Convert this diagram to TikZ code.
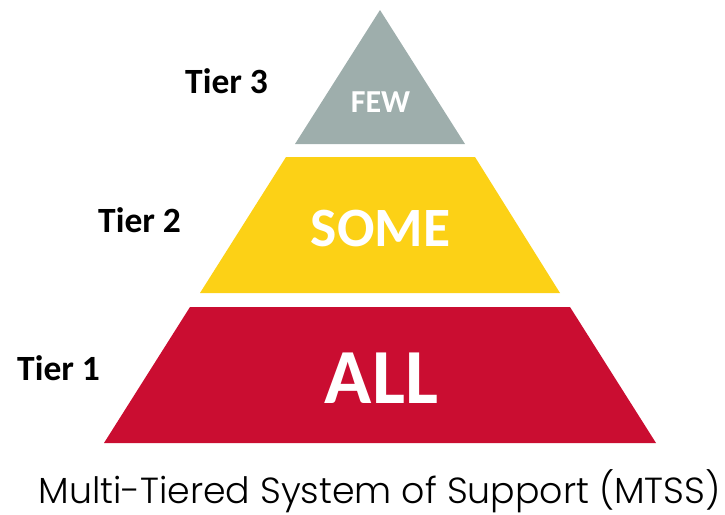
\documentclass[tikz,border=0pt]{standalone}
\usepackage{fontspec}
\usepackage{tikz}
\setmainfont{Carlito}
\newfontfamily\capfont{Poppins Light}
\definecolor{t3}{HTML}{9EAEAC}
\definecolor{t2}{HTML}{FCD116}
\definecolor{t1}{HTML}{CA0D31}

\begin{document}
\begin{tikzpicture}[x=1pt,y=-1pt,
  lbl/.style={inner sep=0pt,anchor=base west,font=\bfseries\fontsize{35.5}{35.5}\selectfont},
  inlbl/.style={inner sep=0pt,anchor=base,text=white,font=\bfseries}]
\useasboundingbox (0,0) rectangle (725,514);
% pyramid
\fill[t3] (380,10) -- (465,144) -- (295,144) -- cycle;
\fill[t2] (286,157) -- (475,157) -- (560,293) -- (200,293) -- cycle;
\fill[t1] (190,307) -- (570,307) -- (656,443) -- (104,443) -- cycle;
% texts inside
\node[inlbl,font=\bfseries\fontsize{32}{32}\selectfont] (few) at (380.5,112) {FEW};
\node[inlbl,font=\bfseries\fontsize{55.5}{55.5}\selectfont] (some) at (380.5,246) {SOME};
\node[inlbl,font=\bfseries\fontsize{78}{78}\selectfont] (all) at (381.5,403) {ALL};
% tier labels
\node[lbl] (tier3) at (185,93) {Tier 3};
\node[lbl] (tier2) at (98,232) {Tier 2};
\node[lbl] (tier1) at (17,380) {Tier 1};
\node[inner sep=0pt,anchor=base,font=\capfont\fontsize{36.3}{36.3}\selectfont] (caption) at (379.5,503) {Multi-Tiered System of Support (MTSS)};
\end{tikzpicture}
\end{document}
